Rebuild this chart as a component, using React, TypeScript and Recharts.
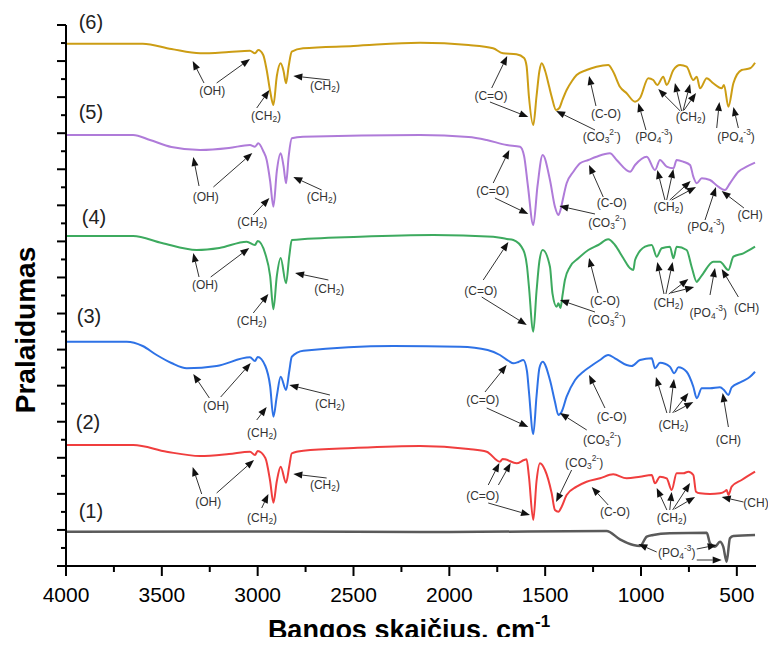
import React from "react"
import { LineChart, Line, XAxis, YAxis, ReferenceDot, ReferenceLine } from "recharts"

// FTIR spectra, wavenumber (cm-1) vs offset transmittance (a.u.)
const sample1 = [[4000,34.3],[3000,34.5],[2000,34],[1180,35],[1110,26.7],[1040,21],[1005,20],[970,29.3],[936,31],[849,32.7],[657,33.3],[640,22.7],[614,19.3],[588,24.3],[571,19.3],[553,4.3],[536,27.7],[518,30],[405,31]]

const sample2 = [[4000,121],[3649,121],[3475,114.3],[3301,110],[3150,112],[3040,114.3],[3014,111],[3000,115],[2960,108],[2935,85],[2918,63.3],[2900,85],[2880,99.3],[2852,83.3],[2835,100],[2822,112.7],[2762,115.3],[2500,118],[2153,120],[1900,117],[1805,114.3],[1736,104.3],[1722,107],[1710,106.7],[1649,102.7],[1610,106],[1597,106.7],[1585,90],[1562,46],[1545,85],[1527,102.7],[1501,96],[1466,72.7],[1449,56],[1431,54.3],[1414,59.3],[1388,71],[1336,79.3],[1284,84.3],[1214,87.7],[1145,91.7],[1075,87.7],[1005,89.3],[944,91],[927,82.7],[901,89.3],[866,87.7],[840,76],[814,92.7],[779,92.7],[753,94.3],[727,91],[713,74.3],[692,72.7],[640,72],[588,72.7],[560,75],[553,76],[544,71],[527,79.3],[475,86],[405,94.3]]

const sample3 = [[4000,224.3],[3683,224.3],[3600,220],[3527,211],[3450,203],[3370,197.7],[3214,200],[3040,208.7],[3014,205],[3000,209],[2960,200],[2935,180],[2918,149.3],[2900,170],[2880,189.3],[2852,176],[2835,195],[2822,209.3],[2762,215.3],[2292,220],[1944,219.3],[1800,216],[1736,211],[1690,205],[1666,202.7],[1640,204],[1614,206],[1595,195],[1585,175],[1562,132],[1545,170],[1530,198],[1513,204.3],[1475,186],[1449,164.3],[1431,151],[1414,154.3],[1388,169.3],[1344,186],[1301,194.3],[1266,199.3],[1214,206],[1171,211],[1136,207.7],[1075,201],[1049,200],[1005,206],[944,207.7],[927,197.7],[901,203.3],[849,199.3],[827,192.7],[805,198.7],[762,194.3],[727,179.3],[709,167.7],[683,177.7],[640,177.7],[588,178.7],[567,176],[544,171],[527,178.7],[475,184.3],[431,189.3],[405,194.3]]

const sample4 = [[4000,330],[3650,330],[3500,323],[3318,316],[3200,318],[3057,324.3],[3014,321],[3000,325],[2960,312],[2935,290],[2918,256.7],[2900,290],[2880,308],[2852,282.7],[2835,310],[2822,326],[2466,329.3],[2083,331],[1771,329.3],[1700,327],[1666,326],[1614,316],[1595,300],[1585,280],[1562,234.3],[1545,275],[1530,305],[1513,316],[1475,299.3],[1462,272.7],[1440,259.3],[1431,262.7],[1420,258],[1410,270],[1397,286],[1370,299.3],[1327,307.7],[1275,316],[1223,321],[1171,326.7],[1136,321],[1092,307.7],[1057,297.7],[1040,296],[1031,306],[979,319.3],[944,321],[918,309.3],[892,317.7],[849,319.3],[831,307.7],[814,319.3],[762,316],[736,299.3],[709,284],[700,286],[675,292.7],[623,304.3],[588,304.3],[544,296],[518,309.3],[466,312.7],[405,319.3]]

const sample5 = [[4000,431],[3650,431],[3562,426],[3450,419],[3300,416],[3150,418],[3040,421],[3014,419.3],[2997,422.7],[2971,415],[2953,406],[2935,385],[2918,359.3],[2900,395],[2880,412.7],[2865,400],[2852,382.7],[2838,410],[2822,427.7],[2763,429.3],[2153,431],[1900,429],[1805,426],[1700,421],[1631,419.3],[1610,410],[1590,380],[1562,341],[1540,380],[1513,411],[1475,386],[1449,359.3],[1431,351],[1420,356],[1414,361],[1388,382.7],[1353,394.3],[1318,402.7],[1275,406],[1232,409.3],[1162,412.7],[1127,406],[1057,394.3],[1031,401],[970,409.3],[927,396],[901,406],[866,399.3],[831,397.7],[814,406],[779,404.3],[744,401],[727,389.3],[709,382.7],[683,387.7],[640,386],[597,379.3],[562,376],[536,382.7],[492,394.3],[449,399.3],[405,403.3]]

const sample6 = [[4000,522.3],[3600,522.3],[3450,517],[3300,512.7],[3150,514],[3040,515.3],[3014,512.7],[2997,516],[2971,511],[2953,496],[2935,475],[2918,461],[2900,490],[2880,502.7],[2865,495],[2852,482.7],[2838,500],[2822,514.3],[2763,517.7],[2500,520],[2153,523.3],[1900,521],[1772,517.7],[1720,512.7],[1650,511.7],[1610,508],[1597,500],[1585,470],[1562,441],[1545,470],[1530,495],[1518,502.7],[1500,495],[1480,480],[1466,469.3],[1443,456],[1426,458],[1410,466],[1388,476],[1360,485],[1336,491],[1284,496],[1232,499.3],[1171,501],[1145,494.3],[1110,479.3],[1075,472.7],[1031,464.3],[1005,468],[962,487.7],[936,486],[915,481],[884,489.3],[866,481],[831,496],[796,501],[762,499.3],[727,486],[709,489.3],[692,477.7],[657,487.7],[623,482.7],[579,477.7],[567,481],[544,459.3],[518,482.7],[475,496],[431,497.7],[405,503.3]]

const sampleColors = ["#5a5a5a", "#f03e3e", "#2e72e6", "#3daa5f", "#af7bd9", "#cc9d14"]
const sampleNames = ["(1)", "(2)", "(3)", "(4)", "(5)", "(6)"]
// where the (n) tags sit [wavenumber, value]
const nameSpots = [[3870,55],[3885,144],[3880,250],[3854,349],[3870,454],[3870,544]]

const xTicks = [4000,3750,3500,3250,3000,2750,2500,2250,2000,1750,1500,1250,1000,750,500]
const Y_MAX = 541
const Y_STEP = Y_MAX / 30
const yTicks = Array.from({ length: 31 }, (_, i) => i * Y_STEP)

// band assignments: text position and arrows [from w, from t, tip w, tip t]
const bandNotes = [
  // (6)
  { text: "(OH)", at: [3237,475], arrows: [[3280,483,3339,505],[3214,483,3040,507]] },
  { text: "(CH_2)", at: [2956,450], arrows: [[3005,458,2939,476]] },
  { text: "(CH_2)", at: [2649,480], arrows: [[2623,486,2814,490]] },
  { text: "(C=O)", at: [1783,470], arrows: [[1779,478,1698,510],[1788,464,1588,449]] },
  { text: "(C-O)", at: [1183,452], arrows: [[1235,460,1271,490]] },
  { text: "(CO_3^2-)", at: [1205,429], arrows: [[1240,436,1443,455]] },
  { text: "(PO_4^-3)", at: [932,429], arrows: [[974,436,1014,463]] },
  { text: "(CH_2)", at: [741,449], arrows: [[795,455,910,477],[788,455,823,483],[781,455,744,482],[775,456,713,473]] },
  { text: "(PO_4^-3)", at: [504,429], arrows: [[605,438,591,464],[492,438,518,459]] },
  // (5)
  { text: "(OH)", at: [3271,369], arrows: [[3306,380,3336,409],[3231,379,3028,413]] },
  { text: "(CH_2)", at: [3028,344], arrows: [[3023,351,2939,368]] },
  { text: "(CH_2)", at: [2666,369], arrows: [[2666,376,2814,389]] },
  { text: "(C=O)", at: [1774,375], arrows: [[1771,383,1687,416],[1762,368,1588,352]] },
  { text: "(C-O)", at: [1153,363], arrows: [[1197,369,1271,401]] },
  { text: "(CO_3^2-)", at: [1176,343], arrows: [[1240,352,1426,360]] },
  { text: "(CH_2)", at: [857,359], arrows: [[875,366,915,396],[866,366,831,397],[850,366,741,385],[840,366,713,379]] },
  { text: "(PO_4^-3)", at: [661,339], arrows: [[666,346,609,379]] },
  { text: "(CH)", at: [431,351], arrows: [[463,358,579,375]] },
  // (4)
  { text: "(OH)", at: [3275,281], arrows: [[3306,289,3336,313],[3245,289,3044,318]] },
  { text: "(CH_2)", at: [3031,245], arrows: [[3023,253,2944,272]] },
  { text: "(CH_2)", at: [2626,277], arrows: [[2631,286,2805,293]] },
  { text: "(C=O)", at: [1836,275], arrows: [[1823,286,1692,324],[1831,269,1596,241]] },
  { text: "(C-O)", at: [1188,265], arrows: [[1224,273,1271,308]] },
  { text: "(CO_3^2-)", at: [1179,246], arrows: [[1240,254,1423,266]] },
  { text: "(CH_2)", at: [857,263], arrows: [[880,272,915,304],[870,272,835,304],[855,272,753,287],[845,273,723,279]] },
  { text: "(PO_4^-3)", at: [649,253], arrows: [[640,271,614,298]] },
  { text: "(CH)", at: [449,258], arrows: [[492,269,579,297]] },
  // (3)
  { text: "(OH)", at: [3217,160], arrows: [[3252,168,3336,192],[3193,169,3036,203]] },
  { text: "(CH_2)", at: [2977,133], arrows: [[3005,146,2953,159]] },
  { text: "(CH_2)", at: [2623,162], arrows: [[2623,171,2835,181]] },
  { text: "(C=O)", at: [1826,166], arrows: [[1814,174,1701,201],[1805,158,1588,139]] },
  { text: "(C-O)", at: [1153,149], arrows: [[1188,158,1271,191]] },
  { text: "(CO_3^2-)", at: [1203,126], arrows: [[1283,136,1423,153]] },
  { text: "(CH_2)", at: [831,141], arrows: [[865,153,922,189],[850,153,828,187],[835,153,753,173],[825,154,727,164]] },
  { text: "(CH)", at: [544,126], arrows: [[544,139,574,173]] },
  // (2)
  { text: "(OH)", at: [3258,64], arrows: [[3292,72,3339,99],[3214,73,3019,106]] },
  { text: "(CH_2)", at: [2977,48], arrows: [[2979,58,2944,72]] },
  { text: "(CH_2)", at: [2649,81], arrows: [[2640,88,2814,92]] },
  { text: "(C=O)", at: [1826,70], arrows: [[1797,81,1739,103],[1744,81,1680,103],[1797,63,1579,51]] },
  { text: "(CO_3^2-)", at: [1297,103], arrows: [[1362,96,1443,64]] },
  { text: "(C-O)", at: [1136,54], arrows: [[1171,61,1257,79]] },
  { text: "(CH_2)", at: [840,48], arrows: [[865,56,918,78],[850,56,840,74],[835,56,744,83],[825,57,718,69]] },
  { text: "(CH)", at: [400,63], arrows: [[465,64,579,69]] },
  // (1)
  { text: "(PO_4^-3)", at: [814,13], arrows: [[918,14,1014,22],[709,17,605,21],[709,6,579,6]] },
]

const FONT = "'Liberation Sans', Arial, Helvetica, sans-serif"

const toRows = (pts: number[][]) => pts.map(([w, t]) => ({ w, t }))
const spectra = [sample1, sample2, sample3, sample4, sample5, sample6].map(toRows)

// "_x" -> subscript char, "^..." -> superscript until ")"
function parseFormula(s: string) {
  const parts: { k: string; t: string }[] = []
  let i = 0
  while (i < s.length) {
    const c = s[i]
    if (c === "_") {
      parts.push({ k: "sub", t: s[i + 1] })
      i += 2
    } else if (c === "^") {
      let j = i + 1
      while (j < s.length && s[j] !== ")") j++
      parts.push({ k: "sup", t: s.slice(i + 1, j) })
      i = j
    } else {
      const last = parts[parts.length - 1]
      if (last && last.k === "n") last.t += c
      else parts.push({ k: "n", t: c })
      i++
    }
  }
  return parts
}

function Formula({ x, y, text, size }: { x: number; y: number; text: string; size: number }) {
  let off = 0
  return (
    <text x={x} y={y} textAnchor="middle" dominantBaseline="central" fontFamily={FONT} fontSize={size} fill="#333">
      {parseFormula(text).map((p, i) => {
        const target = p.k === "sub" ? size * 0.28 : p.k === "sup" ? -size * 0.38 : 0
        const dy = target - off
        off = target
        return (
          <tspan key={i} dy={dy} fontSize={p.k === "n" ? size : size * 0.7}>
            {p.t}
          </tspan>
        )
      })}
    </text>
  )
}

function Arrow(props: any) {
  const { x1, y1, x2, y2 } = props
  const dx = x2 - x1
  const dy = y2 - y1
  const len = Math.hypot(dx, dy) || 1
  const ux = dx / len
  const uy = dy / len
  const hl = 9
  const hw = 3.5
  const bx = x2 - ux * hl
  const by = y2 - uy * hl
  return (
    <g>
      <line x1={x1} y1={y1} x2={bx} y2={by} stroke="#333" strokeWidth={1} />
      <polygon points={`${x2},${y2} ${bx - uy * hw},${by + ux * hw} ${bx + uy * hw},${by - ux * hw}`} fill="#111" />
    </g>
  )
}

const XTick = (props: any) => {
  const { x, y, payload } = props
  const major = payload.value % 500 === 0
  return (
    <g>
      <line x1={x} x2={x} y1={y} y2={y + (major ? 10 : 6)} stroke="#000" strokeWidth={2} />
      {major && (
        <text x={x} y={y + 36} textAnchor="middle" fontFamily={FONT} fontSize={21} fill="#000">
          {payload.value}
        </text>
      )}
    </g>
  )
}

const YTick = (props: any) => {
  const { x, y, payload } = props
  const major = Math.round(payload.value / Y_STEP) % 2 === 0
  return <line x1={x - (major ? 9 : 5)} x2={x} y1={y} y2={y} stroke="#000" strokeWidth={2} />
}

const XTitle = (props: any) => {
  const vb = props.viewBox
  return (
    <text x={vb.x + vb.width / 2 - 2} y={631} textAnchor="middle" fontFamily={FONT} fontWeight="bold" fontSize={27} fill="#000">
      Bangos skaičius, cm
      <tspan dy={-12} fontSize={17}>-1</tspan>
    </text>
  )
}

const YTitle = (props: any) => {
  const vb = props.viewBox
  const x = vb.x + 19
  const y = vb.y + vb.height / 2 + 34.5
  return (
    <text x={x} y={y} transform={`rotate(-90 ${x} ${y})`} textAnchor="middle" fontFamily={FONT} fontWeight="bold" fontSize={28} fill="#000">
      Pralaidumas
    </text>
  )
}

export default function App() {
  return (
    <div style={{ width: 768, height: 637, marginBottom: -8, overflow: "hidden" }}>
      <LineChart width={768} height={637} margin={{ top: 17, right: 20, bottom: 19, left: 8 }}>
        <XAxis
          type="number"
          dataKey="w"
          domain={[400, 4000]}
          reversed
          allowDataOverflow
          ticks={xTicks}
          interval={0}
          tickSize={0}
          tickMargin={0}
          tickLine={false}
          tick={XTick}
          axisLine={{ stroke: "#000", strokeWidth: 2 }}
          height={60}
          label={{ content: XTitle }}
        />
        <YAxis
          type="number"
          domain={[0, Y_MAX]}
          allowDataOverflow
          ticks={yTicks}
          interval={0}
          tickSize={0}
          tickMargin={0}
          tickLine={false}
          tick={YTick}
          axisLine={{ stroke: "#000", strokeWidth: 2 }}
          width={50}
          label={{ content: YTitle }}
        />
        {spectra.map((rows, i) => (
          <Line
            key={sampleNames[i]}
            data={rows}
            dataKey="t"
            type="monotone"
            stroke={sampleColors[i]}
            strokeWidth={i === 0 ? 2.5 : 2}
            dot={false}
            activeDot={false}
            isAnimationActive={false}
          />
        ))}
        {bandNotes.flatMap((n, i) =>
          n.arrows.map((a, j) => (
            <ReferenceLine
              key={`a${i}-${j}`}
              segment={[{ x: a[0], y: a[1] }, { x: a[2], y: a[3] }]}
              ifOverflow="visible"
              shape={Arrow}
            />
          ))
        )}
        {bandNotes.map((n, i) => (
          <ReferenceDot
            key={`n${i}`}
            x={n.at[0]}
            y={n.at[1]}
            r={0}
            ifOverflow="visible"
            shape={(p: any) => <Formula x={p.cx} y={p.cy} text={n.text} size={12} />}
          />
        ))}
        {sampleNames.map((name, i) => (
          <ReferenceDot
            key={name}
            x={nameSpots[i][0]}
            y={nameSpots[i][1]}
            r={0}
            ifOverflow="visible"
            shape={(p: any) => (
              <text x={p.cx} y={p.cy} textAnchor="middle" dominantBaseline="central" fontFamily={FONT} fontSize={20} fill="#222">
                {name}
              </text>
            )}
          />
        ))}
      </LineChart>
    </div>
  )
}
